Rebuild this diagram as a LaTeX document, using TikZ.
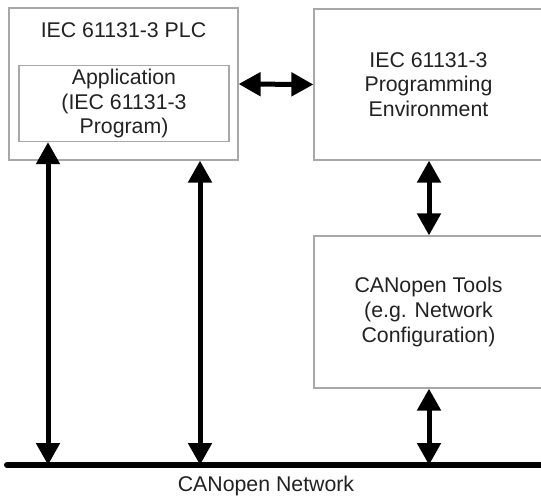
\documentclass[tikz,border=0pt]{standalone}
\usepackage{fontspec}
\setmainfont{Liberation Sans}
\usepackage{tikz}
\usetikzlibrary{arrows.meta,positioning,calc}
\definecolor{frame}{HTML}{A8A8A8}
\definecolor{ink}{HTML}{222222}
\tikzset{
  box/.style={draw=frame,line width=1.2pt,minimum width=229pt,align=center,text=ink,font=\fontsize{21.3}{24.8}\selectfont},
  dblarr/.style={{Triangle[length=22pt,width=23pt]}-{Triangle[length=22pt,width=23pt]},line width=5pt},
  bus/.style={line width=6pt,line cap=round}
}
\begin{document}
\begin{tikzpicture}[x=1pt,y=-1pt]
  \clip (0,0) rectangle (541,499);
  \fill[white] (0,0) rectangle (541,499);
  \node[box,minimum height=152pt] (plc) at (123.5,84) {};
  \node[box,draw=none,inner sep=0pt] (plclbl) at (123.5,30) {IEC 61131-3 PLC};
  \node[box,minimum width=210pt,minimum height=75pt] (app) at (124,103.5) {Application\\(IEC 61131-3\\Program)};
  \node[box,minimum height=151pt] (env) at (428.5,84.5) {IEC 61131-3\\Programming\\Environment};
  \node[box,minimum height=152pt] (tools) at (428.5,312) {CANopen Tools\\(e.g. Network\\Configuration)};
  \coordinate (busL) at (7,465);
  \coordinate (busR) at (560,465);
  \draw[bus] (busL) -- (busR);
  \node[box,draw=none,inner sep=0pt] (net) at (266,486) {CANopen Network};
  \coordinate (b1) at (48,465);
  \coordinate (b2) at (200,465);
  \coordinate (b3) at (429,465);
  \draw[dblarr] (plc.east) -- (env.west);
  \draw[dblarr] (b1 |- app.south) -- (b1);
  \draw[dblarr] (b2 |- plc.south) -- (b2);
  \draw[dblarr] (b3 |- env.south) -- (b3 |- tools.north);
  \draw[dblarr] (b3 |- tools.south) -- (b3);
\end{tikzpicture}
\end{document}
